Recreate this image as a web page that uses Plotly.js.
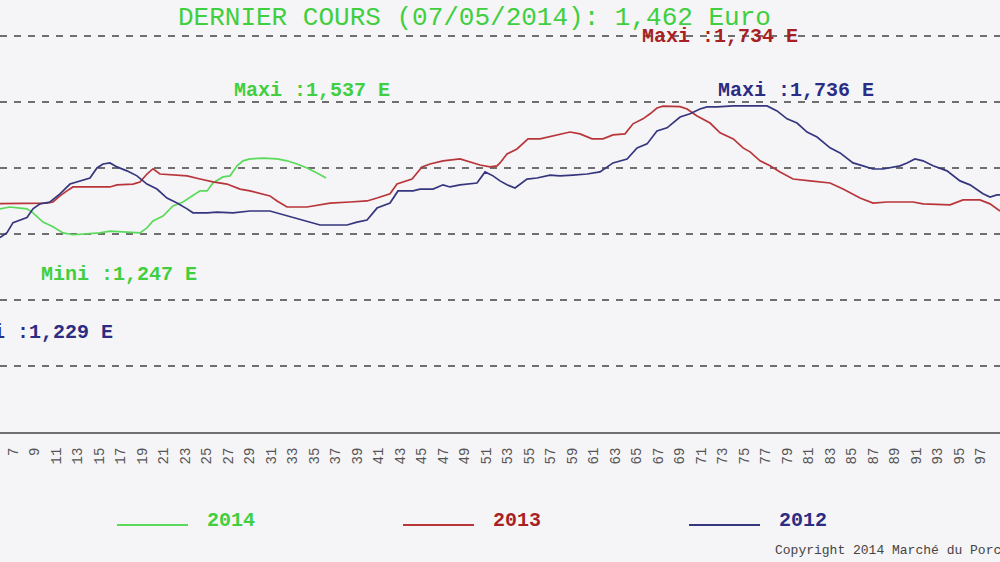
<!DOCTYPE html>
<html>
<head>
<meta charset="utf-8">
<script src="https://cdn.plot.ly/plotly-3.0.1.min.js"></script>
<style>
html,body{margin:0;padding:0;background:#f5f4f7;}
#chart{width:1000px;height:562px;}
</style>
</head>
<body>
<div id="chart"></div>
<script>
// ---- data (x = week index on the chart's axis, y = price in Euro) ----
const weeks2014 = [5.79,6.72,7.65,8.3,8.86,9.79,10.72,11.65,12.58,13.88,15.09,16.02,17.23,18.81,19.46,20.02,20.95,21.88,22.81,23.74,24.4,25.05,25.6,26.53,27.19,27.84,28.4,29.05,30.26,31.56,32.49,33.42,34.35,35.28,36.12];
const price2014 = [1.345,1.352,1.348,1.345,1.330,1.295,1.277,1.254,1.247,1.250,1.254,1.261,1.258,1.254,1.273,1.299,1.318,1.356,1.371,1.394,1.413,1.413,1.443,1.466,1.470,1.508,1.527,1.534,1.537,1.534,1.527,1.515,1.500,1.481,1.462];

const weeks2013 = [5.79,9.51,10.16,10.72,11.37,12.02,12.58,16.02,16.67,18.16,18.81,19.46,20.02,20.67,22.26,23.19,24.4,25.6,26.9,28.12,29.05,29.98,30.9,31.56,32.49,34.35,36.49,38.35,39.93,40.86,42.07,42.72,43.28,44.12,44.58,45.05,45.79,47.0,48.58,49.51,50.44,51.37,52.02,52.3,52.95,53.88,54.91,56.02,57.23,58.81,59.74,60.86,61.88,62.81,63.93,64.67,65.6,66.26,66.9,67.47,69.05,69.7,70.63,71.84,72.77,74.0,74.91,75.56,76.49,77.42,78.35,79.56,81.14,83.0,84.21,85.79,87.0,88.3,90.72,91.65,94.16,95.37,96.95,97.88,98.81];
const price2013 = [1.365,1.365,1.367,1.371,1.394,1.413,1.428,1.428,1.436,1.439,1.447,1.477,1.497,1.477,1.473,1.470,1.458,1.447,1.439,1.420,1.413,1.402,1.394,1.375,1.352,1.352,1.367,1.371,1.375,1.386,1.402,1.439,1.447,1.458,1.481,1.504,1.515,1.527,1.534,1.523,1.511,1.504,1.508,1.519,1.553,1.572,1.610,1.610,1.621,1.636,1.629,1.610,1.610,1.625,1.629,1.667,1.686,1.705,1.727,1.734,1.732,1.723,1.697,1.670,1.633,1.610,1.576,1.561,1.527,1.508,1.485,1.458,1.451,1.443,1.420,1.386,1.367,1.371,1.371,1.364,1.360,1.379,1.379,1.364,1.337];

const weeks2012 = [5.79,6.44,7.0,7.65,8.3,8.86,9.51,10.44,11.37,12.3,13.23,14.16,14.81,15.37,16.02,16.67,17.6,18.53,19.46,20.39,21.32,22.26,23.19,23.74,25.05,25.98,27.46,29.05,30.9,31.84,33.42,34.63,35.56,38.07,39.0,39.93,40.86,42.07,42.81,44.21,44.86,46.07,47.0,47.65,48.58,50.16,50.91,51.65,52.3,52.95,53.7,54.81,55.74,56.95,57.88,59.09,60.4,61.6,62.81,64.12,65.05,65.98,66.9,67.84,68.4,69.05,69.98,70.9,71.56,72.49,73.98,75.56,77.14,78.07,79.0,79.93,80.86,81.79,83.0,83.93,85.14,86.07,87.0,87.93,89.51,90.16,90.9,91.65,92.58,93.88,95.09,96.02,97.23,97.88,98.53,98.81];
const price2012 = [1.236,1.255,1.293,1.303,1.312,1.345,1.364,1.371,1.402,1.439,1.451,1.462,1.500,1.515,1.519,1.504,1.489,1.470,1.439,1.420,1.386,1.367,1.345,1.330,1.330,1.333,1.330,1.337,1.337,1.326,1.307,1.292,1.284,1.284,1.295,1.303,1.348,1.367,1.413,1.413,1.420,1.420,1.436,1.428,1.436,1.443,1.485,1.470,1.451,1.436,1.424,1.458,1.462,1.473,1.470,1.473,1.477,1.485,1.519,1.534,1.576,1.591,1.640,1.652,1.670,1.693,1.705,1.723,1.731,1.731,1.735,1.736,1.735,1.716,1.686,1.670,1.636,1.617,1.576,1.557,1.519,1.508,1.496,1.496,1.508,1.519,1.534,1.527,1.508,1.489,1.451,1.436,1.402,1.390,1.398,1.398];

const tickWeeks = [7,9,11,13,15,17,19,21,23,25,27,29,31,33,35,37,39,41,43,45,47,49,51,53,55,57,59,61,63,65,67,69,71,73,75,77,79,81,83,85,87,89,91,93,95,97,99];
const tickLabels = ["7","9","11","13","15","17","19","21","23","25","27","29","31","33","35","37","39","41","43","45","47","49","51","53","55","57","59","61","63","65","67","69","71","73","75","77","79","81","83","85","87","89","91","93","95","97","99"];

const seriesNames = ["2014","2013","2012"];
const titleText = "DERNIER COURS (07/05/2014): 1,462 Euro";
const maxi2014 = "Maxi :1,537 E";
const mini2014 = "Mini :1,247 E";
const maxi2013 = "Maxi :1,734 E";
const maxi2012 = "Maxi :1,736 E";
const mini2012 = "Mini :1,229 E";
const copyrightText = "Copyright 2014 Marché du Porc Breton";

// ---- styles ----
const GREEN = "#3fcf3f", GREEN_LINE = "#5ada5a";
const RED = "#a81f24", RED_LINE = "#b8363a";
const BLUE = "#2b2c84", BLUE_LINE = "#35367e";
const MONO = "Liberation Mono, DejaVu Sans Mono, monospace";

const traces = [
  {x: weeks2014, y: price2014, name: seriesNames[0], mode: "lines", line: {color: GREEN_LINE, width: 1.7}},
  {x: weeks2013, y: price2013, name: seriesNames[1], mode: "lines", line: {color: RED_LINE, width: 1.7}},
  {x: weeks2012, y: price2012, name: seriesNames[2], mode: "lines", line: {color: BLUE_LINE, width: 1.7}}
];

function lab(text, x, y, color, size, xanchor) {
  return {text: text, x: x, y: y, xref: "x", yref: "y", showarrow: false,
          xanchor: xanchor || "center", yanchor: "middle",
          font: {family: MONO, size: size, color: color, weight: "bold"}};
}

const annotations = [
  {text: titleText, x: 0.474, y: 2.068, xref: "paper", yref: "y", showarrow: false,
   xanchor: "center", yanchor: "middle", font: {family: MONO, size: 26, color: GREEN}},
  lab(maxi2014, 34.8, 1.795, GREEN, 20),
  lab(mini2014, 16.86, 1.098, GREEN, 20),
  lab(maxi2013, 72.77, 1.996, RED, 20),
  lab(maxi2012, 79.84, 1.795, BLUE, 20),
  lab(mini2012, 16.49, 0.875, BLUE, 20, "right"),
  // legend texts
  {text: seriesNames[0], x: 0.205, y: -0.204, xref: "paper", yref: "paper", showarrow: false, xanchor: "left", yanchor: "middle", font: {family: MONO, size: 20, color: GREEN, weight: "bold"}},
  {text: seriesNames[1], x: 0.491, y: -0.204, xref: "paper", yref: "paper", showarrow: false, xanchor: "left", yanchor: "middle", font: {family: MONO, size: 20, color: RED, weight: "bold"}},
  {text: seriesNames[2], x: 0.777, y: -0.204, xref: "paper", yref: "paper", showarrow: false, xanchor: "left", yanchor: "middle", font: {family: MONO, size: 20, color: BLUE, weight: "bold"}},
  {text: copyrightText, x: 0.773, y: -0.275, xref: "paper", yref: "paper", showarrow: false, xanchor: "left", yanchor: "middle", font: {family: MONO, size: 13, color: "#444"}}
];

const shapes = [
  {type: "line", xref: "paper", yref: "paper", x0: 0.117, x1: 0.188, y0: -0.215, y1: -0.215, line: {color: GREEN_LINE, width: 2}},
  {type: "line", xref: "paper", yref: "paper", x0: 0.403, x1: 0.474, y0: -0.215, y1: -0.215, line: {color: RED_LINE, width: 2}},
  {type: "line", xref: "paper", yref: "paper", x0: 0.689, x1: 0.760, y0: -0.215, y1: -0.215, line: {color: BLUE_LINE, width: 2}}
];

const layout = {
  width: 1000, height: 562,
  margin: {l: 0, r: 0, t: 0, b: 130, pad: 0},
  paper_bgcolor: "#f5f4f7", plot_bgcolor: "#f5f4f7",
  showlegend: false, hovermode: false,
  xaxis: {range: [5.79, 98.81], showgrid: false, zeroline: false,
          showline: true, linecolor: "#707070", linewidth: 2,
          tickmode: "array", tickvals: tickWeeks, ticktext: tickLabels,
          tickangle: -90, ticks: "", ticklabelstandoff: 8,
          tickfont: {family: MONO, size: 14, color: "#555"}},
  yaxis: {range: [0.5, 2.136], showgrid: true, gridcolor: "#6f6f6f", gridwidth: 2,
          griddash: "7px,7px", dtick: 0.25, tick0: 0.5, zeroline: false,
          showticklabels: false, showline: false, ticks: ""},
  annotations: annotations,
  shapes: shapes
};

Plotly.newPlot("chart", traces, layout, {displayModeBar: false, staticPlot: true});
</script>
</body>
</html>
